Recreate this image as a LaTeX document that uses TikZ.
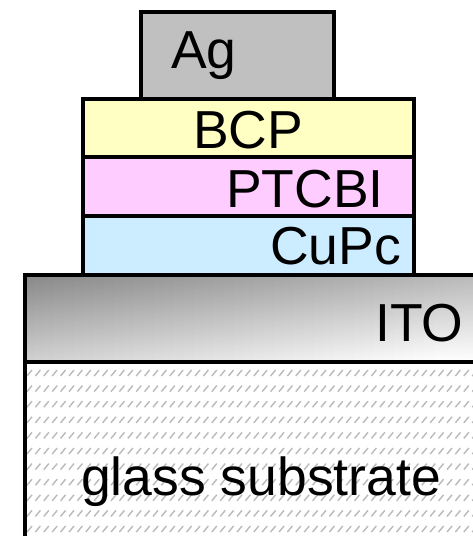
\documentclass[tikz,border=0pt]{standalone}
\usepackage{fontspec}
\setmainfont{Liberation Sans}
\begin{document}
\begin{tikzpicture}[x=1pt,y=-1pt,
  layer/.style={draw=black, line width=4pt, rectangle, inner sep=0pt, outer sep=0pt, anchor=north west},
  lbl/.style={inner sep=0pt, anchor=base west, font=\fontsize{53.5}{60}\selectfont},
  hatchline/.style={draw=black!27, line width=1.4pt}]
\definecolor{agfill}{HTML}{C0C0C0}
\definecolor{bcpfill}{HTML}{FFFFC4}
\definecolor{ptcfill}{HTML}{FFCCFF}
\definecolor{cupcfill}{HTML}{CCECFF}
\useasboundingbox (0,0) rectangle (473,536);

% glass substrate with its light hatching
\begin{scope}
  \clip (24.7,361.7) rectangle (480,545);
  \fill[white] (24.7,361.7) rectangle (480,545);
  \foreach \r in {0,...,11}{
    \foreach \c in {0,...,56}{
      \draw[hatchline] ({27+8.4*\c},{376+15.6*\r}) -- ++(5,-6);
    }
  }
\end{scope}
\draw[line width=4pt] (24.7,545) -- (24.7,361.7) -- (480,361.7);

% ITO layer: grey gradient, darkest at the top left, built from narrow strips
\begin{scope}
  \clip (24.7,274.7) rectangle (480,361.7);
  \foreach \i in {0,...,45}{
    \pgfmathsetmacro{\xl}{24.7+10*\i}
    \pgfmathsetmacro{\tv}{min(255,136+0.11*10*\i)}
    \pgfmathsetmacro{\bv}{min(255,\tv+74)}
    \pgfmathsetmacro{\tp}{100-\tv/2.55}
    \pgfmathsetmacro{\bp}{100-\bv/2.55}
    \shade[top color=black!\tp, bottom color=black!\bp]
      (\xl,274.7) rectangle ({\xl+10.6},361.7);
  }
\end{scope}
\draw[line width=4pt] (24.7,361.7) -- (24.7,274.7) -- (480,274.7);
\draw[line width=4pt] (24.7,361.7) -- (480,361.7);

% organic stack and silver contact
\node[layer, fill=cupcfill, minimum width=330.7, minimum height=58.7] (cupc) at (83.3,216) {};
\node[layer, fill=ptcfill, minimum width=330.7, minimum height=59] (ptcbi) at (83.3,157) {};
\node[layer, fill=bcpfill, minimum width=330.7, minimum height=58.3] (bcp) at (83.3,98.7) {};
\node[layer, fill=agfill, minimum width=193.2, minimum height=86.7] (ag) at (140.5,12) {};

% labels
\node[lbl] (tag) at (171,68) {Ag};
\node[lbl] (tbcp) at (193,148) {BCP};
\node[lbl] (tptcbi) at (226,207) {PTCBI};
\node[lbl] (tcupc) at (270,264) {CuPc};
\node[lbl] (tito) at (375,341) {ITO};
\node[lbl] (tglass) at (81,495) {glass substrate};
\end{tikzpicture}
\end{document}
